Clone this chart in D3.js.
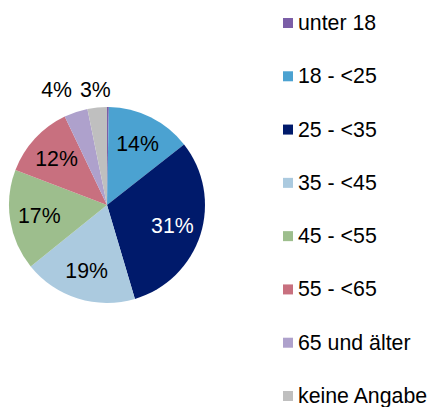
<!DOCTYPE html>
<html><head><meta charset="utf-8">
<script src="https://cdn.jsdelivr.net/npm/d3@7"></script>
<style>html,body{margin:0;padding:0;background:#fff;}svg{display:block;font-family:"Liberation Sans",Arial,sans-serif;}</style>
</head><body>
<svg id="chart" width="432" height="407"></svg>
<script>
const categories = ["unter 18","18 - <25","25 - <35","35 - <45","45 - <55","55 - <65","65 und älter","keine Angabe"];
const values = [0.3, 14.1, 31.0, 18.8, 16.6, 12.1, 3.9, 3.2];
const labels = ["", "14%", "31%", "19%", "17%", "12%", "4%", "3%"];
const colors = ["#7B5EA7","#4BA2D1","#001A6B","#ABCADF","#9DBE8D","#C8707F","#AEA1CC","#BFBFBF"];
const labelColors = ["#000","#000","#fff","#000","#000","#000","#000","#000"];

const svg = d3.select("#chart");
const cx = 107, cy = 205, R = 98;
const fontSize = 21.3;

const pie = d3.pie().sort(null).value(d => d)(values);
const arc = d3.arc().innerRadius(0).outerRadius(R);
const g = svg.append("g").attr("transform", `translate(${cx},${cy})`);
g.selectAll("path").data(pie).join("path")
  .attr("d", arc).attr("fill", (d,i) => colors[i]);

const inner = d3.arc().innerRadius(R*0.7).outerRadius(R*0.7);
const outer = d3.arc().innerRadius(R*1.18).outerRadius(R*1.18);
const placed = pie.map((d,i) => {
  const small = values[i] < 5;
  const c = (small ? outer : inner).centroid(d);
  return {i, x: c[0], y: c[1], small, text: labels[i]};
}).filter(p => p.text);

const texts = g.selectAll("text.lbl").data(placed).join("text")
  .attr("class","lbl")
  .attr("text-anchor","middle").attr("dominant-baseline","central")
  .attr("font-size", fontSize)
  .attr("fill", d => labelColors[d.i])
  .text(d => d.text);
texts.each(function(d){ d.w = this.getComputedTextLength(); });

// overlap avoidance for outside labels (push leftwards)
const outs = placed.filter(p => p.small).sort((a,b) => b.x - a.x);
for (let k = 1; k < outs.length; k++) {
  const prev = outs[k-1], cur = outs[k];
  const minDist = (prev.w + cur.w) / 2 + 8;
  if (prev.x - cur.x < minDist) cur.x = prev.x - minDist;
  cur.y = prev.y;
}
texts.attr("x", d => d.x).attr("y", d => d.y);

// legend
const ly = d3.scalePoint().domain(categories).range([23, 396]);
const leg = svg.append("g").selectAll("g").data(categories).join("g")
  .attr("transform", d => `translate(283,${ly(d)})`);
leg.append("rect").attr("x",0).attr("y",-5).attr("width",10).attr("height",10)
  .attr("fill", (d,i) => colors[i]);
leg.append("text").attr("x",15).attr("y",0).attr("dominant-baseline","central")
  .attr("font-size", fontSize).attr("fill","#000").text(d => d);
</script>
</body></html>
